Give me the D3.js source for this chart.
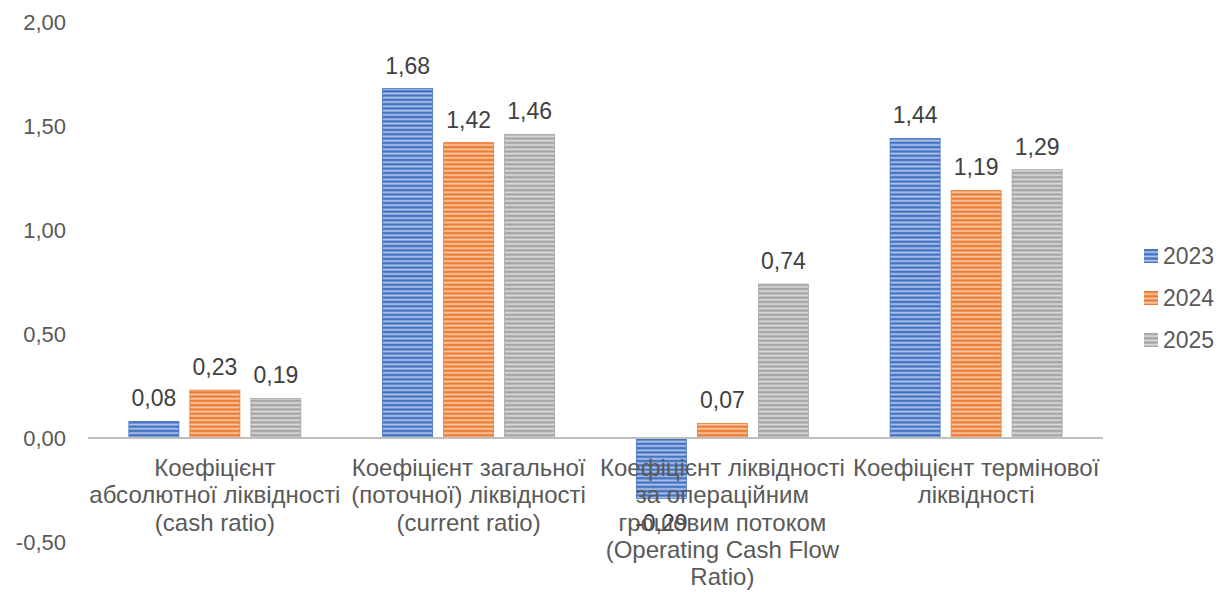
<!DOCTYPE html>
<html>
<head>
<meta charset="utf-8">
<script src="https://cdn.jsdelivr.net/npm/d3@7"></script>
<style>
  html, body { margin: 0; padding: 0; background: #fff; }
  svg { display: block; font-family: "Liberation Sans", Arial, sans-serif; }
</style>
</head>
<body>
<svg id="chart" width="1229" height="592"></svg>
<script>
// Category labels, already split into lines as they are wrapped under the axis
const categories = [
  ["Коефіцієнт", "абсолютної ліквідності", "(cash ratio)"],
  ["Коефіцієнт загальної", "(поточної) ліквідності", "(current ratio)"],
  ["Коефіцієнт ліквідності", "за операційним", "грошовим потоком", "(Operating Cash Flow", "Ratio)"],
  ["Коефіцієнт термінової", "ліквідності"]
];
const years = ["2023", "2024", "2025"];
const values2023 = [0.08, 1.68, -0.29, 1.44];
const values2024 = [0.23, 1.42, 0.07, 1.19];
const values2025 = [0.19, 1.46, 0.74, 1.29];
const yTicks = [-0.5, 0, 0.5, 1.0, 1.5, 2.0];
const colors = ["#4472C4", "#ED7D31", "#A5A5A5"];

const series = [values2023, values2024, values2025];
const fmt = v => d3.format(".2f")(v).replace(".", ",").replace("−", "-");

const svg = d3.select("#chart");
const plot = { left: 88, right: 1103, top: 22, bottom: 542 };

const x0 = d3.scaleBand()
  .domain(d3.range(categories.length))
  .range([plot.left, plot.right])
  .paddingInner(0)
  .paddingOuter(0);
const x1 = d3.scaleBand()
  .domain(years)
  .range([0, x0.bandwidth()])
  .paddingInner(0.18)
  .paddingOuter(0.67);
const y = d3.scaleLinear().domain([-0.5, 2.0]).range([plot.bottom, plot.top]);

// Striped fills for each series
const defs = svg.append("defs");
colors.forEach((c, i) => {
  const p = defs.append("pattern")
    .attr("id", "stripe" + i)
    .attr("patternUnits", "userSpaceOnUse")
    .attr("width", 8).attr("height", 4.3);
  p.append("rect").attr("width", 8).attr("height", 4.3).attr("fill", c);
  p.append("rect").attr("y", 2.2).attr("width", 8).attr("height", 1.8)
    .attr("fill", d3.interpolateRgb(c, "#ffffff")(0.6));
});

// Y axis tick labels (no axis line, no gridlines)
const yAxis = d3.axisLeft(y).tickValues(yTicks).tickFormat(fmt).tickSize(0).tickPadding(0);
const yg = svg.append("g").attr("transform", "translate(66,0)").call(yAxis);
yg.select(".domain").remove();
yg.selectAll("text")
  .attr("fill", "#595959")
  .style("font-size", "22px")
  .style("font-family", "Liberation Sans, Arial, sans-serif");

// Bars
const groups = svg.append("g").selectAll("g")
  .data(categories)
  .join("g")
  .attr("transform", (d, i) => `translate(${x0(i)},0)`);

groups.selectAll("rect")
  .data((d, i) => series.map((s, k) => ({ key: years[k], k, v: s[i] })))
  .join("rect")
  .attr("x", d => x1(d.key))
  .attr("width", x1.bandwidth())
  .attr("y", d => y(Math.max(0, d.v)))
  .attr("height", d => Math.abs(y(d.v) - y(0)))
  .attr("fill", d => `url(#stripe${d.k})`)
  .attr("stroke", d => colors[d.k])
  .attr("stroke-width", 0.8);

// Zero line
svg.append("line")
  .attr("x1", plot.left).attr("x2", plot.right)
  .attr("y1", y(0)).attr("y2", y(0))
  .attr("stroke", "#BFBFBF").attr("stroke-width", 2);

// Category labels
svg.append("g").selectAll("text")
  .data(categories)
  .join("text")
  .attr("text-anchor", "middle")
  .attr("fill", "#595959")
  .style("font-size", "24px")
  .attr("x", (d, i) => x0(i) + x0.bandwidth() / 2)
  .attr("y", y(0) + 38)
  .each(function (lines) {
    d3.select(this).selectAll("tspan")
      .data(lines)
      .join("tspan")
      .attr("x", d3.select(this).attr("x"))
      .attr("dy", (l, j) => j === 0 ? 0 : 27.3)
      .text(l => l);
  });

// Value labels
groups.selectAll("text.val")
  .data((d, i) => series.map((s, k) => ({ key: years[k], k, v: s[i] })))
  .join("text")
  .attr("class", "val")
  .attr("text-anchor", "middle")
  .attr("fill", "#404040")
  .style("font-size", "23px")
  .attr("x", d => x1(d.key) + x1.bandwidth() / 2)
  .attr("y", d => d.v >= 0 ? y(d.v) - 15 : y(d.v) + 33)
  .text(d => fmt(d.v));

// Legend
const legend = svg.append("g").selectAll("g")
  .data(years)
  .join("g")
  .attr("transform", (d, i) => `translate(1144,${249 + i * 42})`);
legend.append("rect")
  .attr("width", 14).attr("height", 14)
  .attr("fill", (d, i) => `url(#stripe${i})`);
legend.append("text")
  .attr("x", 19).attr("y", 15)
  .attr("fill", "#595959")
  .style("font-size", "23px")
  .text(d => d);
</script>
</body>
</html>
